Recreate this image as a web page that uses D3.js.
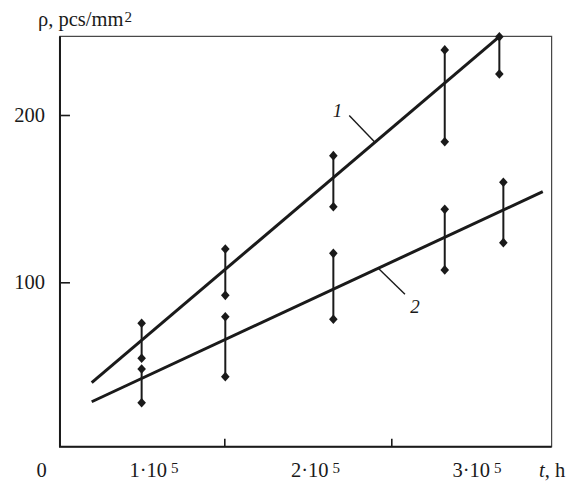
<!DOCTYPE html>
<html>
<head>
<meta charset="utf-8">
<script src="https://cdn.jsdelivr.net/npm/d3@7"></script>
<style>
    body { margin: 0; background: #fff; }
    svg text { font-family: "Liberation Serif", "DejaVu Serif", serif; fill: #1a1a1a; }
</style>
</head>
<body>
<svg id="d3-svg"></svg>
<script>
const width = 573;
const height = 482;

// time, h and measured range of rho, pcs/mm2
const time1 = [0.505e5, 1.006e5, 1.653e5, 2.32e5, 2.647e5];
const rho1High = [75.5, 119.9, 175.7, 238.9, 246.8];
const rho1Low = [54.6, 92.2, 145.2, 184.0, 224.5];

const time2 = [0.505e5, 1.006e5, 1.653e5, 2.32e5, 2.671e5];
const rho2High = [48.2, 79.4, 117.3, 143.6, 159.8];
const rho2Low = [28.0, 43.6, 77.9, 107.4, 123.7];

// fitted straight lines (end points)
const fit1Time = [0.206e5, 2.647e5];
const fit1Rho = [40.0, 246.8];
const fit2Time = [0.206e5, 2.907e5];
const fit2Rho = [28.6, 154.2];

const xTicks = [1e5, 2e5];
const xLabels = [1e5, 2e5, 3e5];
const yTicks = [100, 200];

const tExtent = [0.016e5, 2.96e5];
const rhoExtent = [1.7, 247];

const x = d3.scaleLinear().domain([1e5, 2e5]).range([224.3, 391.3]);
const y = d3.scaleLinear().domain([100, 200]).range([282.3, 115]);
// the printed tick labels sit left of their ticks in the original
const xLabel = d3.scaleLinear().domain([1e5, 3e5]).range([154, 477]);

const fontSize = 20.5;

const svg = d3.select("svg#d3-svg").attr("width", width).attr("height", height);

const plotLeft = x(tExtent[0]), plotRight = x(tExtent[1]);
const plotTop = y(rhoExtent[1]), plotBottom = y(rhoExtent[0]);

// frame: thin top/right, heavier left/bottom
svg.append("rect")
    .attr("x", plotLeft).attr("y", plotTop)
    .attr("width", plotRight - plotLeft).attr("height", plotBottom - plotTop)
    .attr("fill", "none").attr("stroke", "#444").attr("stroke-width", 1.2);
svg.append("path")
    .attr("d", `M${plotLeft},${plotTop}V${plotBottom}H${plotRight}`)
    .attr("fill", "none").attr("stroke", "#1a1a1a").attr("stroke-width", 2);

svg.append("g")
    .attr("transform", `translate(0,${plotBottom})`)
    .call(d3.axisBottom(x).tickValues(xTicks).tickSize(-8).tickFormat(""))
    .call(g => g.select(".domain").remove())
    .call(g => g.selectAll("line").attr("stroke", "#1a1a1a").attr("stroke-width", 1.6));

svg.append("g")
    .attr("transform", `translate(${plotLeft},0)`)
    .call(d3.axisLeft(y).tickValues(yTicks).tickSize(-10).tickPadding(15))
    .call(g => g.select(".domain").remove())
    .call(g => g.selectAll("line").attr("stroke", "#1a1a1a").attr("stroke-width", 1.6))
    .call(g => g.selectAll("text").attr("font-size", fontSize).attr("fill", "#1a1a1a")
        .attr("font-family", "Liberation Serif"));

// x tick labels  n·10^5
const labelBase = 476.7;
svg.append("text")
    .attr("x", 41.7).attr("y", labelBase)
    .attr("text-anchor", "middle").attr("font-size", fontSize).text("0");
xLabels.forEach(v => {
    const t = svg.append("text")
        .attr("x", xLabel(v)).attr("y", labelBase)
        .attr("text-anchor", "middle").attr("font-size", fontSize);
    t.append("tspan").text(`${v / 1e5}\u00b710`);
    t.append("tspan").attr("dx", 4).attr("dy", -4).attr("font-size", 15).text("5");
});

const tLabel = svg.append("text").attr("x", 539).attr("y", labelBase).attr("font-size", fontSize);
tLabel.append("tspan").attr("font-style", "italic").text("t");
tLabel.append("tspan").text(", h");

const yTitle = svg.append("text").attr("x", 38).attr("y", 25.5).attr("font-size", fontSize);
yTitle.append("tspan").text("\u03c1, pcs/mm");
yTitle.append("tspan").attr("dx", 1).attr("dy", -4).attr("font-size", 15).text("2");

// fitted lines
const line = d3.line().x(d => x(d[0])).y(d => y(d[1]));
[[fit1Time, fit1Rho], [fit2Time, fit2Rho]].forEach(([ts, rs]) => {
    svg.append("path")
        .datum(d3.zip(ts, rs))
        .attr("d", line)
        .attr("fill", "none").attr("stroke", "#1a1a1a").attr("stroke-width", 3);
});

// scatter ranges with diamond ends
const diamond = "M0,-4.8L4.3,0L0,4.8L-4.3,0Z";
const series = [
    d3.zip(time1, rho1Low, rho1High),
    d3.zip(time2, rho2Low, rho2High)
];
series.forEach(data => {
    const g = svg.append("g");
    g.selectAll("line")
        .data(data)
        .join("line")
        .attr("x1", d => x(d[0])).attr("x2", d => x(d[0]))
        .attr("y1", d => y(d[1])).attr("y2", d => y(d[2]))
        .attr("stroke", "#1a1a1a").attr("stroke-width", 2);
    g.selectAll("path")
        .data(data.flatMap(d => [[d[0], d[1]], [d[0], d[2]]]))
        .join("path")
        .attr("d", diamond)
        .attr("transform", d => `translate(${x(d[0])},${y(d[1])})`)
        .attr("fill", "#1a1a1a");
});

// callouts
function rhoAt(ts, rs, t) {
    return d3.scaleLinear().domain(ts).range(rs)(t);
}
const call1 = 1.902e5, call2 = 1.922e5;
const p1 = [x(call1), y(rhoAt(fit1Time, fit1Rho, call1))];
const p2 = [x(call2), y(rhoAt(fit2Time, fit2Rho, call2))];

svg.append("line")
    .attr("x1", p1[0]).attr("y1", p1[1]).attr("x2", p1[0] - 25.7).attr("y2", p1[1] - 26.7)
    .attr("stroke", "#1a1a1a").attr("stroke-width", 1.4);
svg.append("text")
    .attr("x", p1[0] - 37.5).attr("y", p1[1] - 25)
    .attr("text-anchor", "middle").attr("font-size", 19).attr("font-style", "italic")
    .text("1");

svg.append("line")
    .attr("x1", p2[0]).attr("y1", p2[1]).attr("x2", p2[0] + 26.7).attr("y2", p2[1] + 26)
    .attr("stroke", "#1a1a1a").attr("stroke-width", 1.4);
svg.append("text")
    .attr("x", p2[0] + 36.7).attr("y", p2[1] + 45)
    .attr("text-anchor", "middle").attr("font-size", 19).attr("font-style", "italic")
    .text("2");
</script>
</body>
</html>
